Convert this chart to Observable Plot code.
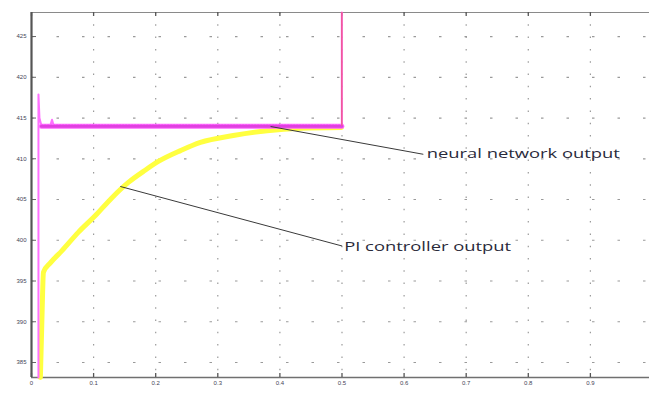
<!DOCTYPE html>
<html>
<head>
<meta charset="utf-8">
<script src="https://cdn.jsdelivr.net/npm/d3@7"></script>
<script src="https://cdn.jsdelivr.net/npm/@observablehq/plot@0.6"></script>
<style>
  html, body { margin: 0; padding: 0; background: #fff; }
  #chart { width: 649px; height: 402px; }
</style>
</head>
<body>
<div id="chart"></div>
<script>
// ---- data ----
const xTicks = [0, 0.1, 0.2, 0.3, 0.4, 0.5, 0.6, 0.7, 0.8, 0.9];
const yTicks = [385, 390, 395, 400, 405, 410, 415, 420, 425];
const xDomain = [0, 0.9952];
const yDomain = [383.16, 427.95];

// PI controller output (yellow)
const piX = [0.0143, 0.0165, 0.0193, 0.0300, 0.0488, 0.0757, 0.1025, 0.1293, 0.1560, 0.1830, 0.2050, 0.2400, 0.2720, 0.3250, 0.3795, 0.4330, 0.4990];
const piY = [383.16, 389.5, 396.1, 397.2, 398.7, 401.0, 403.0, 405.2, 407.1, 408.6, 409.7, 411.0, 412.0, 412.85, 413.45, 413.75, 413.85];

// neural network output (magenta)
const nnX = [0.0112, 0.0112, 0.0128, 0.0160, 0.0300, 0.0330, 0.0360, 0.1000, 0.2000, 0.3000, 0.4000, 0.4997, 0.4997];
const nnY = [383.16, 417.9, 415.0, 414.05, 414.0, 414.8, 414.0, 414.0, 414.0, 414.0, 414.0, 414.0, 427.95];
// steady band of the neural network output
const bandX = [0.0160, 0.4997];
const bandY = [414.0, 414.0];

// annotations
const labels = ["neural network output", "PI controller output"];
const labelX = [0.6365, 0.5035];
const labelY = [410.62, 399.22];
const pointerX1 = [0.385, 0.143];
const pointerY1 = [413.96, 406.6];
const pointerX2 = [0.631, 0.500];
const pointerY2 = [410.55, 399.3];

const pi = piX.map((x, i) => ({x, y: piY[i]}));
const nn = nnX.map((x, i) => ({x, y: nnY[i]}));
const band = bandX.map((x, i) => ({x, y: bandY[i]}));
const ann = labels.map((t, i) => ({t, x: labelX[i], y: labelY[i], x1: pointerX1[i], y1: pointerY1[i], x2: pointerX2[i], y2: pointerY2[i]}));

const tickLenX = (yDomain[1] - yDomain[0]) / 365 * 4;
const tickLenY = (xDomain[1] - xDomain[0]) / 618 * 5;

const chart = Plot.plot({
  width: 649,
  height: 402,
  marginLeft: 31,
  marginRight: 0,
  marginTop: 12,
  marginBottom: 25,
  style: {fontFamily: "'Liberation Sans', Arial, sans-serif", fontSize: "6px", color: "#445", background: "#fff"},
  x: {domain: xDomain, ticks: xTicks, tickSize: 0, tickPadding: 3, tickFormat: d => d === 0 ? "0" : String(d), label: null},
  y: {domain: yDomain, ticks: yTicks, tickSize: 0, tickPadding: 5, tickFormat: d => String(d), label: null},
  marks: [
    // dotted grid
    Plot.ruleX(xTicks.slice(1), {x: d => d, stroke: "#9a9a9a", strokeWidth: 1.2, strokeDasharray: "1.5,10.8"}),
    Plot.ruleY(yTicks, {y: d => d, stroke: "#9a9a9a", strokeWidth: 1.2, strokeDasharray: "2.5,23"}),
    // frame lines
    Plot.ruleY([yDomain[1]], {y: d => d, stroke: "#8a8a8a", strokeWidth: 1.2}),
    Plot.ruleY([yDomain[0]], {y: d => d, stroke: "#707070", strokeWidth: 1.6}),
    // inward ticks
    Plot.ruleX(xTicks, {x: d => d, y1: yDomain[0], y2: yDomain[0] + tickLenX, stroke: "#555", strokeWidth: 1.3}),
    Plot.ruleX(xTicks, {x: d => d, y1: yDomain[1], y2: yDomain[1] - tickLenX, stroke: "#555", strokeWidth: 1.3}),
    Plot.ruleY(yTicks, {y: d => d, x1: xDomain[0], x2: xDomain[0] + tickLenY, stroke: "#666", strokeWidth: 1}),
    // PI controller output
    Plot.line(pi, {x: "x", y: "y", stroke: "#ffff40", strokeWidth: 5, curve: "monotone-x"}),
    // neural network output
    Plot.line(nn, {x: "x", y: "y", stroke: "#ff70ff", strokeWidth: 2, curve: "linear"}),
    Plot.line(band, {x: "x", y: "y", stroke: "#ff66ff", strokeWidth: 5}),
    Plot.line(band, {x: "x", y: "y", stroke: "#e040e0", strokeWidth: 3, strokeDasharray: "1.5,1.5"}),
    Plot.ruleX([bandX[1]], {x: d => d, y1: bandY[1], y2: yDomain[1], stroke: "#f05a9a", strokeWidth: 1.6}),
    // left axis line
    Plot.ruleX([xDomain[0]], {x: d => d, stroke: "#555", strokeWidth: 2.2}),
    // annotations
    Plot.link(ann, {x1: "x1", y1: "y1", x2: "x2", y2: "y2", stroke: "#3a3a3a", strokeWidth: 1}),
    Plot.text(ann, {x: "x", y: "y", text: "t", textAnchor: "start", fontSize: 13, fill: "#2a2a3a", fontFamily: "'Open Sans', 'Liberation Sans', sans-serif"})
  ]
});

document.getElementById("chart").appendChild(chart);

// stretch annotation text to match reference width
const widths = {"neural network output": 193, "PI controller output": 167};
d3.select(chart).selectAll("text").each(function() {
  const w = widths[this.textContent];
  if (w) d3.select(this).attr("textLength", w).attr("lengthAdjust", "spacingAndGlyphs");
});
</script>
</body>
</html>
